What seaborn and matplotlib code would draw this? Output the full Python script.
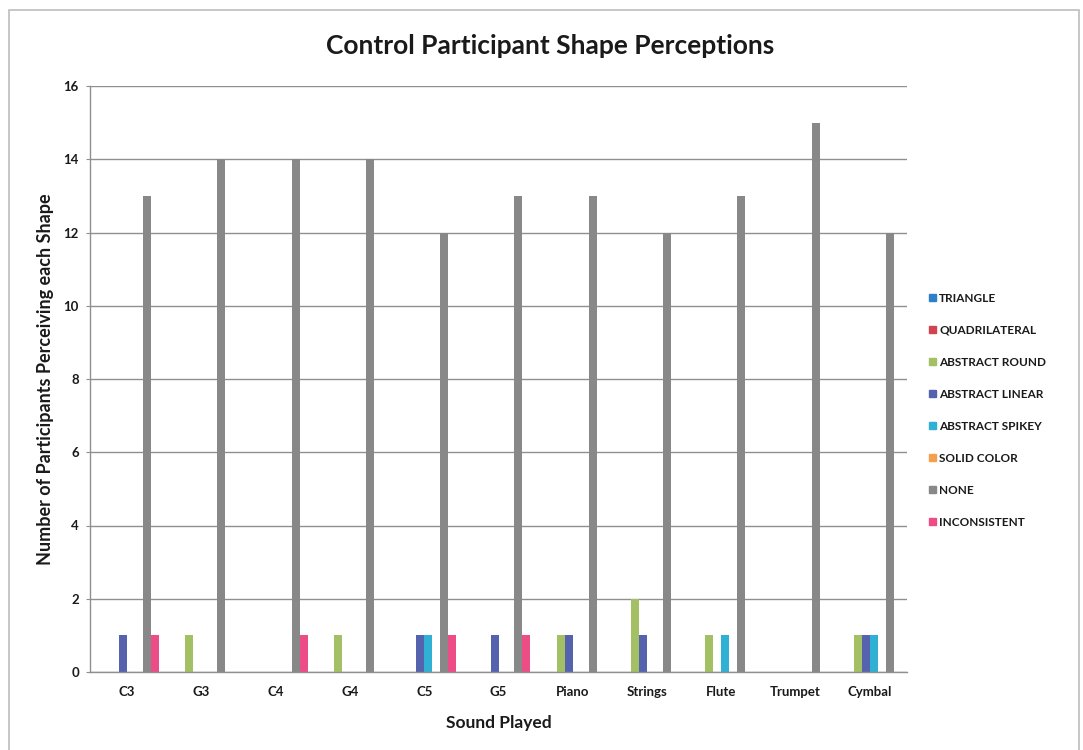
import pandas as pd
import matplotlib.pyplot as plt
import matplotlib.patches as mpatches
import seaborn as sns

# Données
sounds = ["C3", "G3", "C4", "G4", "C5", "G5", "Piano", "Strings", "Flute", "Trumpet", "Cymbal"]
shapes = ["TRIANGLE", "QUADRILATERAL", "ABSTRACT ROUND", "ABSTRACT LINEAR",
          "ABSTRACT SPIKEY", "SOLID COLOR", "NONE", "INCONSISTENT"]

triangle = [0, 0, 0, 0, 0, 0, 0, 0, 0, 0, 0]
quadrilateral = [0, 0, 0, 0, 0, 0, 0, 0, 0, 0, 0]
abstract_round = [0, 1, 0, 1, 0, 0, 1, 2, 1, 0, 1]
abstract_linear = [1, 0, 0, 0, 1, 1, 1, 1, 0, 0, 1]
abstract_spikey = [0, 0, 0, 0, 1, 0, 0, 0, 1, 0, 1]
solid_color = [0, 0, 0, 0, 0, 0, 0, 0, 0, 0, 0]
none = [13, 14, 14, 14, 12, 13, 13, 12, 13, 15, 12]
inconsistent = [1, 0, 1, 0, 1, 1, 0, 0, 0, 0, 0]

colors = ["#2f7fc8", "#d0434f", "#a3c164", "#5562ae", "#2fb0d4", "#f5a04e", "#888888", "#ec4d86"]

series = [triangle, quadrilateral, abstract_round, abstract_linear,
          abstract_spikey, solid_color, none, inconsistent]
rows = []
for shape, vals in zip(shapes, series):
    for s, v in zip(sounds, vals):
        rows.append({"sound": s, "shape": shape, "count": v})
df = pd.DataFrame(rows)

sns.set_style("white")
plt.rcParams["font.family"] = ["Lato", "DejaVu Sans"]

fig = plt.figure(figsize=(10.83, 7.5), dpi=100)
ax = fig.add_axes([90 / 1083, 1 - 672 / 750, (907 - 90) / 1083, (672 - 86) / 750])

sns.barplot(data=df, x="sound", y="count", hue="shape", hue_order=shapes, order=sounds,
            palette=dict(zip(shapes, colors)), width=0.86, linewidth=0, saturation=1,
            legend=False, ax=ax)

ax.set_ylim(0, 16)
ax.set_yticks(range(0, 17, 2))
ax.set_xlim(-0.5, 10.5)
ax.yaxis.grid(True, color="#8f8f8f", linewidth=1)
ax.set_axisbelow(True)
for side in ["top", "right"]:
    ax.spines[side].set_visible(False)
for side in ["left", "bottom"]:
    ax.spines[side].set_color("#8f8f8f")
    ax.spines[side].set_linewidth(1)

ax.set_xticks([i - 0.5 for i in range(12)], minor=True)
ax.tick_params(axis="x", which="major", length=0, pad=10, labelsize=9.5)
ax.tick_params(axis="x", which="minor", length=3, color="#8f8f8f", direction="out")
ax.tick_params(axis="y", length=3, color="#8f8f8f", direction="out", pad=5, labelsize=9.5, left=True)
for lab in ax.get_xticklabels() + ax.get_yticklabels():
    lab.set_fontweight("bold")
    lab.set_color("#1a1a1a")

ax.set_xlabel("Sound Played", fontsize=12.5, fontweight="bold", labelpad=12, color="#1a1a1a")
ax.set_ylabel("Number of Participants Perceiving each Shape", fontsize=13, fontweight="bold",
              labelpad=7, color="#1a1a1a")
fig.text(550 / 1083, 1 - 46 / 750, "Control Participant Shape Perceptions",
         ha="center", va="center", fontsize=19, fontweight="bold", color="#1a1a1a")

handles = [mpatches.Patch(color=c, label=s) for s, c in zip(shapes, colors)]
leg = fig.legend(handles=handles, loc="upper left", bbox_to_anchor=(918 / 1083, 1 - 282 / 750),
                 frameon=False, fontsize=8.5, handlelength=0.6, handleheight=0.6,
                 handletextpad=0.3, labelspacing=1.78)
for t in leg.get_texts():
    t.set_fontweight("bold")
    t.set_color("#1a1a1a")

# cadre extérieur
fig.patches.append(mpatches.Rectangle((9 / 1083, -0.05), (1079 - 9) / 1083, 1.05 - 10 / 750,
                                      transform=fig.transFigure, fill=False,
                                      edgecolor="#bdbdbd", linewidth=1.2))

fig.savefig("out.png", dpi=100)
